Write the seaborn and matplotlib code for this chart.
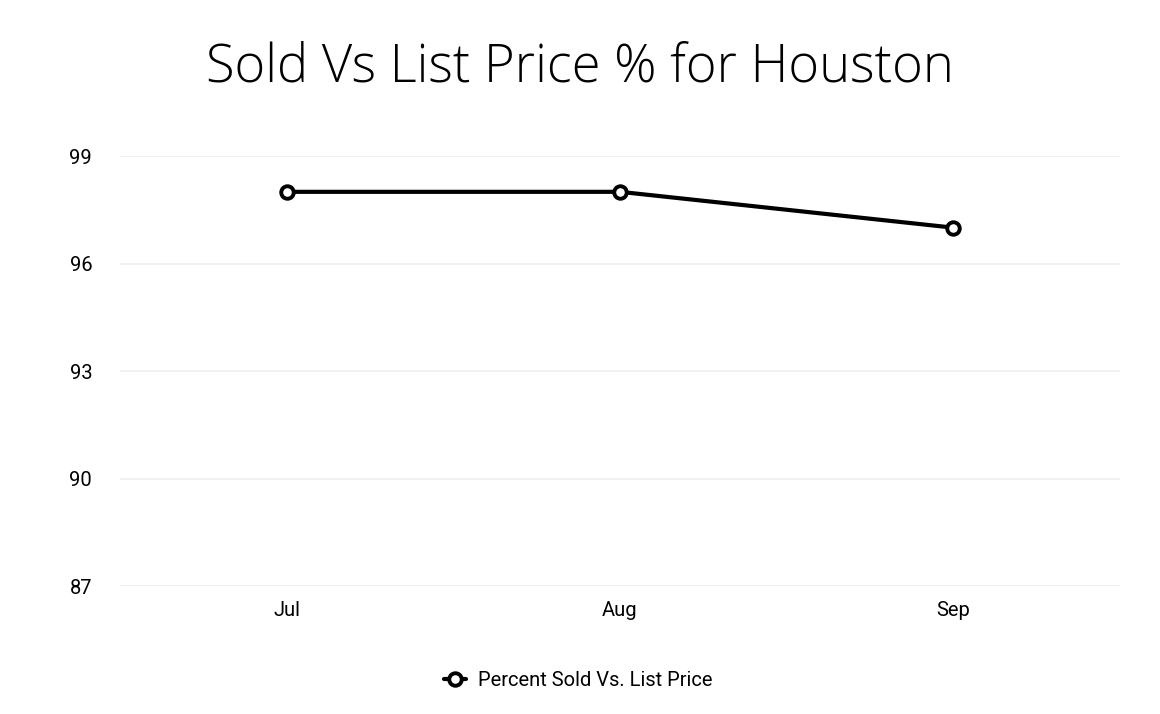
import pandas as pd
import matplotlib.pyplot as plt
import seaborn as sns

months = ['Jul', 'Aug', 'Sep']
pct_sold = [98, 98, 97]
y_ticks = [87, 90, 93, 96, 99]

df = pd.DataFrame({'month': months, 'pct': pct_sold})

sns.set_theme(style='white')
plt.rcParams['font.family'] = ['Roboto', 'DejaVu Sans']
plt.rcParams['text.color'] = 'black'

fig = plt.figure(figsize=(11.6, 7.14), dpi=100)
ax = fig.add_axes([120 / 1160, 128 / 714, 1000 / 1160, 430 / 714])

sns.lineplot(data=df, x='month', y='pct', ax=ax, color='black', linewidth=3,
             marker='o', markersize=9, markerfacecolor='white',
             markeredgecolor='black', markeredgewidth=2.8,
             label='Percent Sold Vs. List Price')

ax.set_xlim(-0.5, 2.5)
ax.set_ylim(87, 99)
ax.set_yticks(y_ticks)
ax.set_yticklabels([str(v) for v in y_ticks])
ax.yaxis.grid(True, color='#efefef', linewidth=1.2)
ax.xaxis.grid(False)
for s in ax.spines.values():
    s.set_visible(False)
ax.tick_params(axis='y', length=0, pad=20, labelsize=14.5, labelcolor='black')
ax.tick_params(axis='x', length=0, pad=11, labelsize=14.5, labelcolor='black')
ax.set_xlabel('')
ax.set_ylabel('')

leg = ax.legend(loc='center', bbox_to_anchor=(0.458, -0.22), frameon=False,
                fontsize=14.5, handlelength=1.1, handletextpad=0.6)
for t in leg.get_texts():
    t.set_color('black')

fig.text(0.5, 1 - 68 / 714, 'Sold Vs List Price % for Houston',
         ha='center', va='center', fontsize=37.8, color='black',
         fontweight='light', family=['Open Sans', 'DejaVu Sans'])

fig.savefig('out.png', dpi=100)
